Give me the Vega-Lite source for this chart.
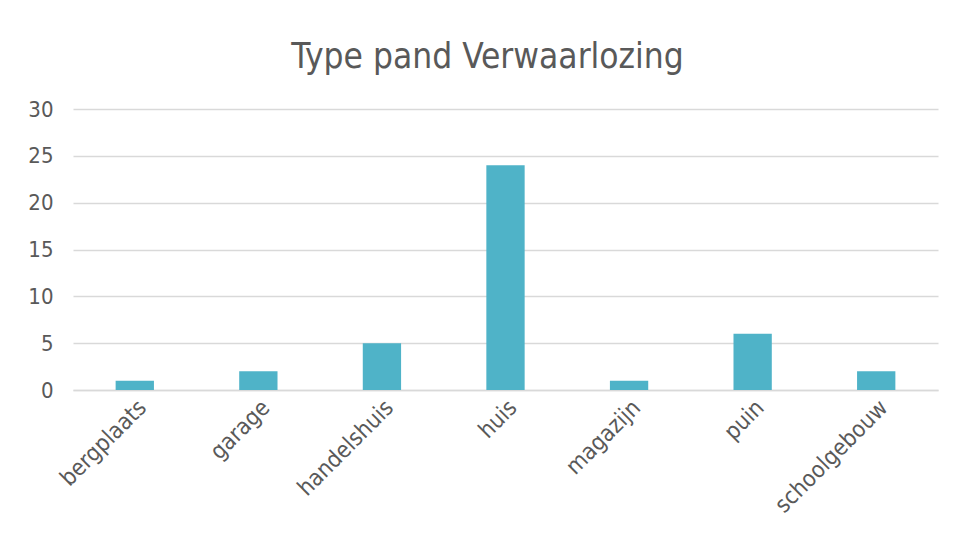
{
  "$schema": "https://vega.github.io/schema/vega-lite/v6.json",
  "width": 865,
  "height": 281,
  "autosize": "none",
  "padding": {"left": 73, "top": 109, "right": 17, "bottom": 145},
  "background": "white",
  "title": {
    "text": "Type pand Verwaarlozing",
    "font": "DejaVu Sans Condensed, sans-serif",
    "fontSize": 35,
    "fontWeight": "normal",
    "color": "#595959",
    "anchor": "middle",
    "dx": -18,
    "offset": 23
  },
  "data": {
    "values": [
      {"type": "bergplaats", "count": 1},
      {"type": "garage", "count": 2},
      {"type": "handelshuis", "count": 5},
      {"type": "huis", "count": 24},
      {"type": "magazijn", "count": 1},
      {"type": "puin", "count": 6},
      {"type": "schoolgebouw", "count": 2}
    ]
  },
  "mark": {"type": "bar", "color": "#4fb3c8"},
  "encoding": {
    "x": {
      "field": "type",
      "type": "nominal",
      "sort": null,
      "title": null,
      "scale": {"paddingInner": 0.69, "paddingOuter": 0.345},
      "axis": {
        "labelAngle": -45,
        "labelFont": "DejaVu Sans Condensed, sans-serif",
        "labelFontSize": 23,
        "labelColor": "#595959",
        "labelPadding": 6,
        "ticks": false,
        "domainColor": "#d9d9d9",
        "domainWidth": 1.5,
        "grid": false
      }
    },
    "y": {
      "field": "count",
      "type": "quantitative",
      "title": null,
      "scale": {"domain": [0, 30], "nice": false},
      "axis": {
        "values": [0, 5, 10, 15, 20, 25, 30],
        "labelFont": "DejaVu Sans Condensed, sans-serif",
        "labelFontSize": 22,
        "labelColor": "#595959",
        "labelPadding": 20,
        "ticks": false,
        "domain": false,
        "gridColor": "#d9d9d9",
        "gridWidth": 1.5
      }
    }
  },
  "config": {"view": {"stroke": null}}
}
